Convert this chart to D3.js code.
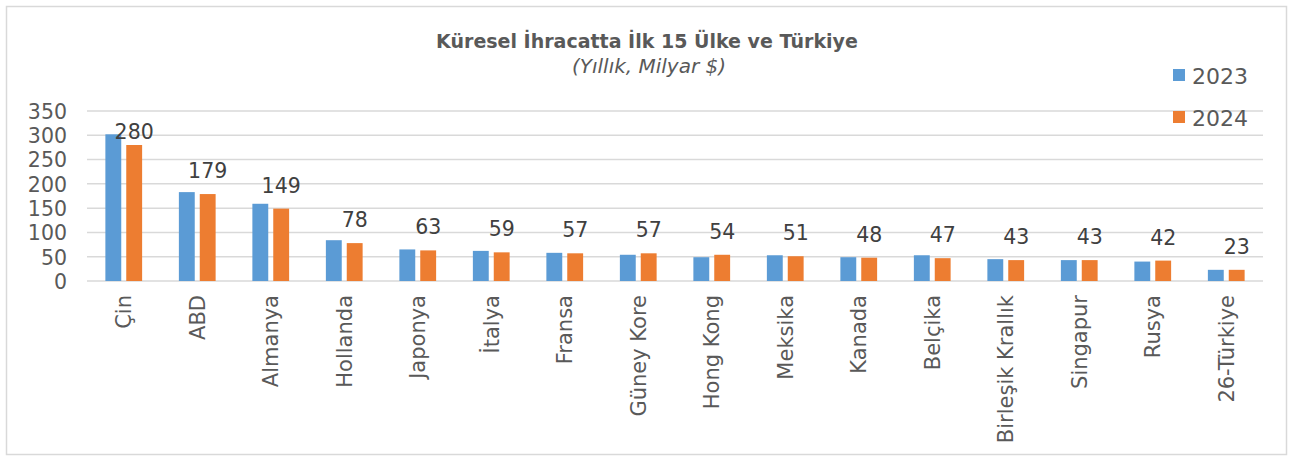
<!DOCTYPE html>
<html>
<head>
<meta charset="utf-8">
<script src="https://cdn.jsdelivr.net/npm/d3@7"></script>
<style>
  html, body { margin: 0; padding: 0; background: #fff; }
  svg { display: block; }
</style>
</head>
<body>
<svg id="chart" width="1290" height="457"></svg>
<script>
const categories = ["Çin", "ABD", "Almanya", "Hollanda", "Japonya", "İtalya", "Fransa", "Güney Kore", "Hong Kong", "Meksika", "Kanada", "Belçika", "Birleşik Krallık", "Singapur", "Rusya", "26-Türkiye"];
const series = ["2023", "2024"];
const values2023 = [302, 183, 159, 84, 65, 62, 58, 54, 49, 53, 49, 53, 45, 43, 40, 23];
const values2024 = [280, 179, 149, 78, 63, 59, 57, 57, 54, 51, 48, 47, 43, 43, 42, 23];
const yTicks = [0, 50, 100, 150, 200, 250, 300, 350];
const title = "Küresel İhracatta İlk 15 Ülke ve Türkiye";
const subtitle = "(Yıllık, Milyar $)";

const colors = { "2023": "#5B9BD5", "2024": "#ED7D31" };
const font = "'DejaVu Sans', sans-serif";
const textColor = "#595959";

const svg = d3.select("#chart");
const W = 1290, H = 457;

// outer border
svg.append("rect").attr("x", 6.5).attr("y", 6.5).attr("width", W - 10).attr("height", H - 9)
  .attr("fill", "#fff").attr("stroke", "#d9d9d9").attr("stroke-width", 1.5);

const plot = { left: 87, right: 1263, top: 111, bottom: 281 };

const x0 = d3.scaleBand().domain(categories).range([plot.left, plot.right]).paddingInner(0).paddingOuter(0);
const bw = x0.bandwidth();
const gw = bw * 0.5;
const x1 = d3.scaleBand().domain(series).range([(bw - gw) / 2, (bw + gw) / 2]).paddingInner(0.24).paddingOuter(0);
const y = d3.scaleLinear().domain([0, 350]).range([plot.bottom, plot.top]);

// gridlines
svg.append("g").selectAll("line").data(yTicks).join("line")
  .attr("x1", plot.left).attr("x2", plot.right)
  .attr("y1", d => y(d)).attr("y2", d => y(d))
  .attr("stroke", "#d9d9d9").attr("stroke-width", 1.5);

// y axis labels
const yAxis = d3.axisLeft(y).tickValues(yTicks).tickSize(0).tickPadding(0);
const yg = svg.append("g").attr("transform", `translate(${plot.left - 20},0)`).call(yAxis);
yg.select(".domain").remove();
yg.selectAll("text").attr("font-family", font).attr("font-size", 20.5).attr("fill", textColor).attr("dy", "0.36em");

// bars
const data = categories.map((c, i) => ({ cat: c, vals: [{ s: "2023", v: values2023[i] }, { s: "2024", v: values2024[i] }] }));
const groups = svg.append("g").selectAll("g").data(data).join("g")
  .attr("transform", d => `translate(${x0(d.cat)},0)`);
groups.selectAll("rect").data(d => d.vals).join("rect")
  .attr("x", d => x1(d.s)).attr("width", x1.bandwidth())
  .attr("y", d => y(d.v)).attr("height", d => y(0) - y(d.v))
  .attr("fill", d => colors[d.s]);

// data labels for 2024
svg.append("g").selectAll("text").data(data).join("text")
  .attr("x", d => x0(d.cat) + x1("2024") + x1.bandwidth() / 2)
  .attr("y", d => Math.max(y(d.vals[1].v) - 16, y(292)))
  .attr("text-anchor", "middle")
  .attr("font-family", font).attr("font-size", 20.5).attr("fill", "#404040")
  .text(d => d.vals[1].v);

// x axis labels rotated
const xAxis = d3.axisBottom(x0).tickSize(0).tickPadding(0);
const xg = svg.append("g").attr("transform", `translate(0,${plot.bottom})`).call(xAxis);
xg.select(".domain").remove();
xg.selectAll("text")
  .attr("font-family", font).attr("font-size", 21).attr("fill", textColor)
  .attr("text-anchor", "end")
  .attr("transform", "rotate(-90)")
  .attr("x", -14).attr("y", 0).attr("dy", "0.36em");

// title
svg.append("text").attr("x", 647).attr("y", 48).attr("text-anchor", "middle")
  .attr("font-family", font).attr("font-size", 19).attr("font-weight", "bold").attr("fill", "#595959")
  .text(title);
svg.append("text").attr("x", 649).attr("y", 73).attr("text-anchor", "middle")
  .attr("font-family", font).attr("font-size", 20).attr("font-style", "italic").attr("fill", "#595959")
  .text(subtitle);

// legend
const lg = svg.append("g").selectAll("g").data(series).join("g")
  .attr("transform", (d, i) => `translate(1173,${69 + i * 42})`);
lg.append("rect").attr("width", 12).attr("height", 12).attr("fill", d => colors[d]);
lg.append("text").attr("x", 19).attr("y", 15).attr("font-family", font).attr("font-size", 22)
  .attr("fill", textColor).text(d => d);
</script>
</body>
</html>
